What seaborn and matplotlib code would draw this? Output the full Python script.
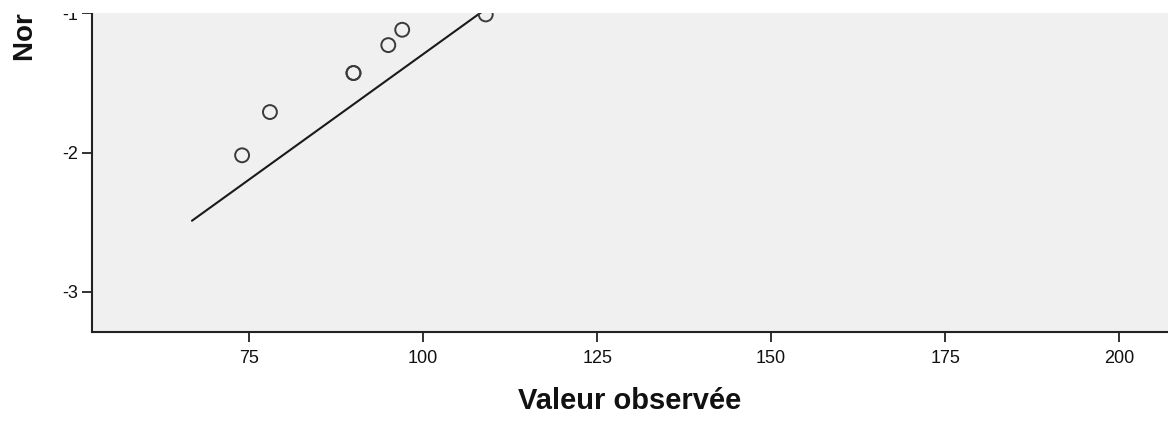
import numpy as np
import pandas as pd
import matplotlib
matplotlib.use("Agg")
import matplotlib.pyplot as plt
import seaborn as sns
from matplotlib.patches import Rectangle

# observed values and their theoretical normal quantiles (lower tail only)
observed = [74, 78, 90, 90, 95, 97, 109]
expected_normal = [-2.02, -1.71, -1.43, -1.43, -1.23, -1.12, -1.01]

# reference line parameters (sample mean / sd)
line_mean = 136.0
line_sd = 27.8
line_start = 66.8
line_end = 230.0

x_ticks = [75, 100, 125, 150, 175, 200]
y_ticks = [-3, -2, -1]

sns.set_style("ticks")
plt.rcParams["font.family"] = ["Liberation Sans", "DejaVu Sans"]
plt.rcParams["axes.unicode_minus"] = False

W, H = 1168, 423
fig = plt.figure(figsize=(W / 100, H / 100), dpi=100)

# axes box in pixels: the top runs past the picture's upper edge
left_px, right_px, top_px, bottom_px = 92, 1168, -50, 332
ax = fig.add_axes([left_px / W, 1 - bottom_px / H,
                   (right_px - left_px) / W, (bottom_px - top_px) / H])
ax.set_facecolor("#f0f0f0")

pts = pd.DataFrame({"x": observed, "y": expected_normal})
line_x = np.array([line_start, line_end])
line_df = pd.DataFrame({"x": line_x, "y": (line_x - line_mean) / line_sd})

sns.lineplot(data=line_df, x="x", y="y", color="#1a1a1a", lw=1.5, ax=ax)
sns.scatterplot(data=pts, x="x", y="y", s=100, facecolor="none",
                edgecolor="#3a3a3a", linewidth=1.4, ax=ax, zorder=3)

ax.set_xlim(52.44, 207.0)
ax.set_ylim(-3.287, -0.548)
ax.set_xticks(x_ticks)
ax.set_yticks(y_ticks)
ax.tick_params(axis="x", pad=6)
ax.tick_params(axis="y", pad=3)
ax.tick_params(axis="both", direction="out", length=7, width=1.3,
               color="#222222", labelsize=13, labelcolor="#111111")
for side in ["left", "bottom"]:
    ax.spines[side].set_linewidth(1.5)
    ax.spines[side].set_color("#222222")
for side in ["top", "right"]:
    ax.spines[side].set_visible(False)

ax.set_xlabel("Valeur observée", fontsize=21, fontweight="bold",
              color="#111111", labelpad=14)
ax.set_ylabel("")
fig.text(26 / W, 1 - 61 / H, "Normale théorique", rotation=90,
         ha="center", va="bottom", fontsize=20, fontweight="bold",
         color="#111111")

# the picture is cut just above the -1 tick
fig.patches.append(Rectangle((0, 1 - 13 / H), 1, 13 / H, transform=fig.transFigure,
                             facecolor="white", edgecolor="none", zorder=10))

fig.savefig("out.png", dpi=100)
